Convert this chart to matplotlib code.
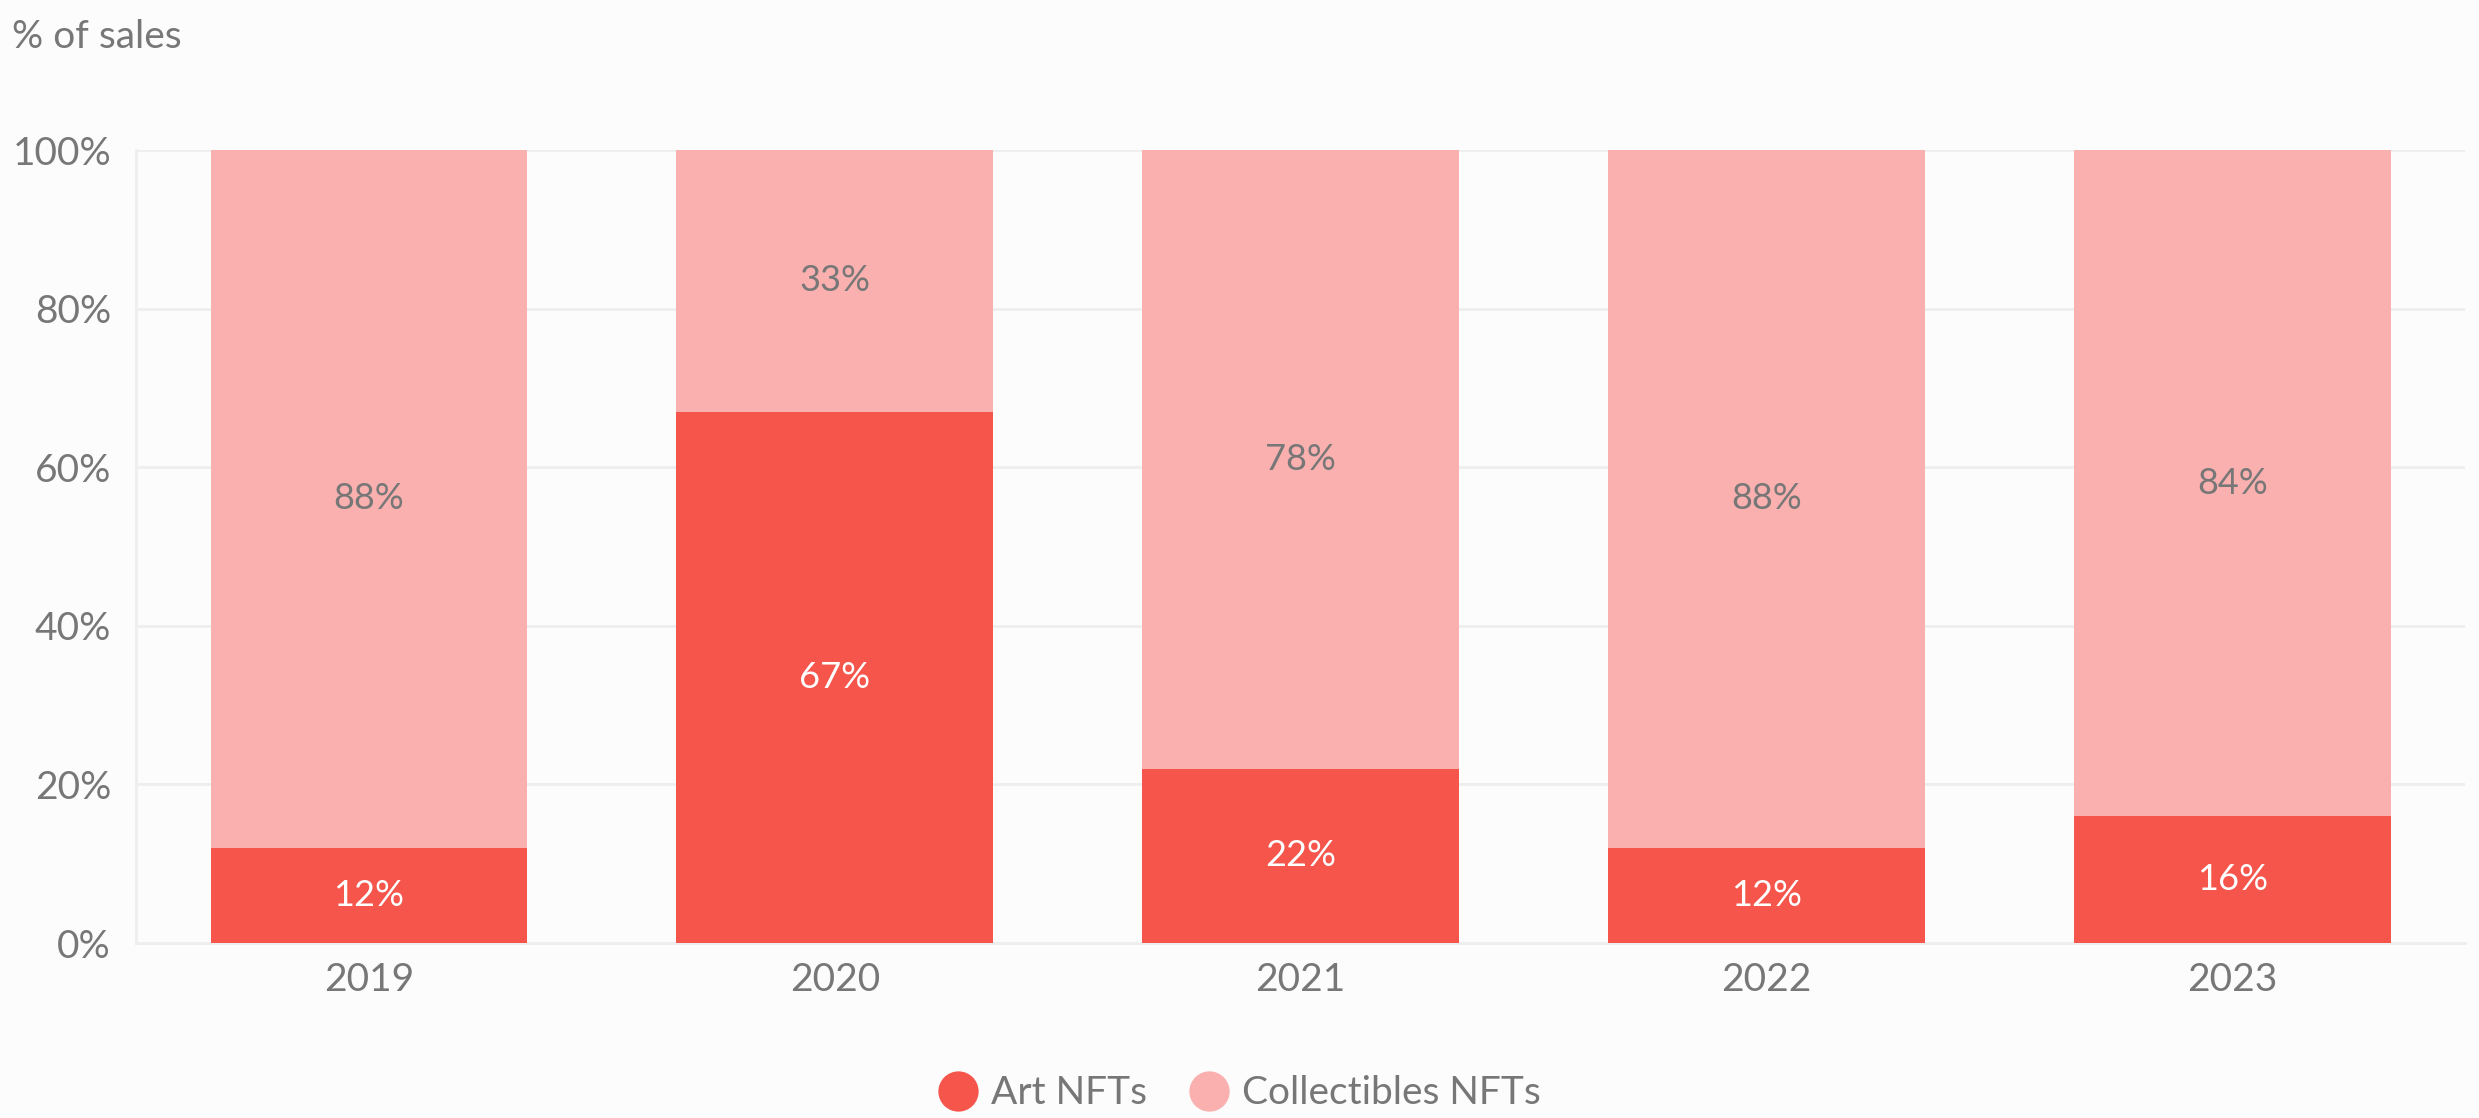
import numpy as np
import matplotlib.pyplot as plt
from matplotlib.lines import Line2D

plt.rcParams['font.family'] = ['Lato', 'DejaVu Sans']

years = ['2019', '2020', '2021', '2022', '2023']
art = [12, 67, 22, 12, 16]
collectibles = [88, 33, 78, 88, 84]

art_color = '#F5554B'
coll_color = '#F9B0AE'
text_gray = '#777777'
grid_gray = '#EEEEEE'
bg = '#FCFCFC'

fig = plt.figure(figsize=(24.79, 11.18), dpi=100, facecolor=bg)
ax = fig.add_axes([0.0549, 0.1565, 0.9395, 0.7093], facecolor=bg)

x = np.arange(len(years))
w = 0.68
ax.bar(x, art, width=w, color=art_color, zorder=3)
ax.bar(x, collectibles, width=w, bottom=art, color=coll_color, zorder=3)

# labels in the middle of each segment
for i in range(len(years)):
    ax.text(x[i], art[i] / 2, f'{art[i]}%', ha='center', va='center',
            color='white', fontsize=26, zorder=4)
    ax.text(x[i], art[i] + collectibles[i] / 2, f'{collectibles[i]}%',
            ha='center', va='center', color=text_gray, fontsize=26, zorder=4)

ax.set_xlim(-0.5, 4.5)
ax.set_ylim(0, 100)
ax.set_yticks([0, 20, 40, 60, 80, 100])
ax.set_yticklabels([f'{v}%' for v in [0, 20, 40, 60, 80, 100]])
ax.set_xticks(x)
ax.set_xticklabels(years)
ax.tick_params(axis='both', length=0, labelsize=28, labelcolor=text_gray)
ax.tick_params(axis='y', pad=18)
ax.tick_params(axis='x', pad=14)
ax.grid(axis='y', color=grid_gray, linewidth=2, zorder=0)

for s in ['top', 'right']:
    ax.spines[s].set_visible(False)
for s in ['left', 'bottom']:
    ax.spines[s].set_color(grid_gray)
    ax.spines[s].set_linewidth(2)

fig.text(0.005, 0.957, '% of sales', fontsize=28, color=text_gray,
         ha='left', va='baseline')

handles = [
    Line2D([], [], marker='o', linestyle='none', markersize=29,
           markerfacecolor=art_color, markeredgecolor='none', label='Art NFTs'),
    Line2D([], [], marker='o', linestyle='none', markersize=29,
           markerfacecolor=coll_color, markeredgecolor='none', label='Collectibles NFTs'),
]
fig.legend(handles=handles, loc='center', bbox_to_anchor=(0.5, 0.022), ncol=2,
           frameon=False, fontsize=28, labelcolor=text_gray, handlelength=1.0,
           handletextpad=0.35, columnspacing=1.1)

fig.savefig('out.png', dpi=100, facecolor=bg)
